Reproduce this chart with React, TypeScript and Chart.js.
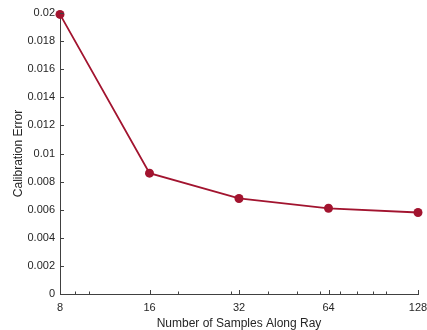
import React, { useEffect, useRef } from "react";
import { Chart, registerables } from "chart.js";

Chart.register(...registerables);

const samples = [8, 16, 32, 64, 128];
const calibrationError = [0.0199, 0.0086, 0.0068, 0.0061, 0.0058];
const xMajorTicks = [8, 16, 32, 64, 128];
const xMinorTicks = [9, 10, 20, 30, 40, 50, 60, 70, 80, 90, 100];
const yTicks = [0, 0.002, 0.004, 0.006, 0.008, 0.01, 0.012, 0.014, 0.016, 0.018, 0.02];

const AXIS_COLOR = "#404040";
const LINE_COLOR = "#A2142F";

const inwardTicks = {
  id: "inwardTicks",
  afterDatasetsDraw(chart: any) {
    const { ctx, chartArea, scales } = chart;
    const x = scales.x;
    const y = scales.y;
    ctx.save();
    ctx.strokeStyle = AXIS_COLOR;
    ctx.lineWidth = 1;
    ctx.beginPath();
    xMajorTicks.forEach((v) => {
      const px = Math.round(x.getPixelForValue(v)) + 0.5;
      ctx.moveTo(px, chartArea.bottom);
      ctx.lineTo(px, chartArea.bottom - 4);
    });
    xMinorTicks.forEach((v) => {
      const px = Math.round(x.getPixelForValue(v)) + 0.5;
      ctx.moveTo(px, chartArea.bottom);
      ctx.lineTo(px, chartArea.bottom - 2.5);
    });
    yTicks.forEach((v) => {
      const py = Math.round(y.getPixelForValue(v)) + 0.5;
      ctx.moveTo(chartArea.left, py);
      ctx.lineTo(chartArea.left + 4, py);
    });
    ctx.stroke();
    ctx.restore();
  },
};

export default function App() {
  const ref = useRef<HTMLCanvasElement | null>(null);

  useEffect(() => {
    document.body.style.margin = "0";
    const canvas = ref.current;
    if (!canvas) return;
    const chart = new Chart(canvas, {
      type: "line",
      data: {
        datasets: [
          {
            data: samples.map((s, i) => ({ x: s, y: calibrationError[i] })),
            borderColor: LINE_COLOR,
            backgroundColor: LINE_COLOR,
            borderWidth: 1.8,
            pointRadius: 4.5,
            pointHoverRadius: 4.5,
            pointBorderWidth: 0,
            tension: 0,
            clip: false as any,
          },
        ],
      },
      options: {
        animation: false,
        responsive: false,
        maintainAspectRatio: false,
        layout: { padding: { top: 13, right: 9, left: 0, bottom: 0 } },
        plugins: {
          legend: { display: false },
          tooltip: { enabled: false },
        },
        scales: {
          x: {
            type: "logarithmic",
            min: 8,
            max: 128,
            afterBuildTicks: (scale: any) => {
              scale.ticks = xMajorTicks.map((v) => ({ value: v }));
            },
            afterFit: (scale: any) => {
              scale.height = 36;
              scale.paddingRight = 0;
              scale.paddingLeft = 0;
            },
            grid: { display: false, drawTicks: false },
            border: { display: true, color: AXIS_COLOR, width: 1 },
            ticks: {
              autoSkip: false,
              maxRotation: 0,
              padding: 7,
              color: "#262626",
              font: { family: "'Liberation Sans', Arial, sans-serif", size: 11 },
              callback: (v: any) => String(v),
            },
            title: {
              display: true,
              text: "Number of Samples Along Ray",
              color: "#262626",
              font: { family: "'Liberation Sans', Arial, sans-serif", size: 12 },
              padding: { top: 0, bottom: -1 },
            },
          },
          y: {
            type: "linear",
            min: 0,
            max: 0.02,
            afterBuildTicks: (scale: any) => {
              scale.ticks = yTicks.map((v) => ({ value: v }));
            },
            afterFit: (scale: any) => {
              scale.width = 60;
              scale.paddingTop = 0;
              scale.paddingBottom = 0;
            },
            grid: { display: false, drawTicks: false },
            border: { display: true, color: AXIS_COLOR, width: 1 },
            ticks: {
              autoSkip: false,
              padding: 5,
              color: "#262626",
              font: { family: "'Liberation Sans', Arial, sans-serif", size: 11 },
              callback: (v: any) => String(Number(Number(v).toFixed(4))),
            },
            title: {
              display: true,
              text: "Calibration Error",
              color: "#262626",
              font: { family: "'Liberation Sans', Arial, sans-serif", size: 12 },
              padding: { top: 11, bottom: 2 },
            },
          },
        },
      },
      plugins: [inwardTicks],
    });
    return () => chart.destroy();
  }, []);

  return (
    <div style={{ position: "fixed", left: 0, top: 0, width: 427, height: 330, background: "#fff" }}>
      <canvas ref={ref} width={427} height={330} style={{ width: 427, height: 330 }} />
    </div>
  );
}
